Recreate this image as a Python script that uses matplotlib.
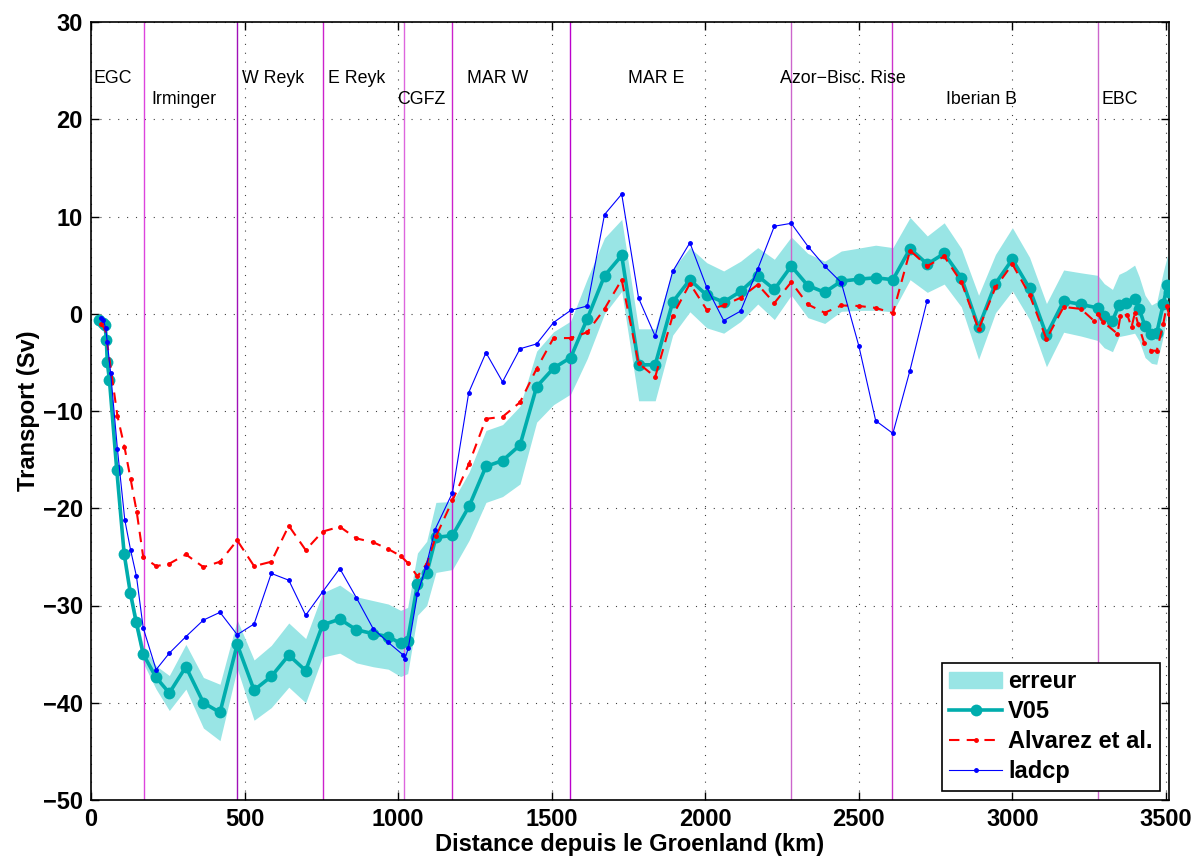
import matplotlib
matplotlib.use("Agg")
import matplotlib.pyplot as plt
from matplotlib.patches import Patch
from matplotlib.lines import Line2D
import numpy as np

plt.rcParams['font.family'] = ['Liberation Sans', 'DejaVu Sans']

# --- V05 transport (Sv) and its error half-width -------------------------
v05_km = [26, 38, 46, 50, 53, 60, 84, 108, 128, 147, 170, 212, 255, 309, 366, 420,
          476, 531, 587, 644, 699, 754, 810, 864, 919, 968, 1008, 1031, 1063, 1093,
          1123, 1177, 1231, 1286, 1340, 1397, 1451, 1506, 1562, 1616, 1672, 1728,
          1783, 1837, 1894, 1950, 2005, 2060, 2115, 2171, 2225, 2280, 2334, 2389,
          2443, 2500, 2555, 2611, 2667, 2723, 2778, 2834, 2890, 2945, 3000, 3056,
          3111, 3167, 3223, 3278, 3299, 3326, 3347, 3370, 3398, 3413, 3432, 3453,
          3470, 3491, 3505, 3510]
v05_sv = [-0.6, -0.95, -1.2, -2.7, -5.0, -6.8, -16.1, -24.7, -28.7, -31.7, -35.0,
          -37.4, -39.0, -36.3, -40.0, -41.0, -34.0, -38.7, -37.3, -35.1, -36.7,
          -32.0, -31.4, -32.5, -32.9, -33.2, -33.9, -33.6, -27.8, -26.7, -23.0,
          -22.8, -19.8, -15.7, -15.1, -13.5, -7.5, -5.6, -4.5, -0.5, 3.9, 6.0,
          -5.25, -5.25, 1.2, 3.5, 1.9, 1.2, 2.3, 3.9, 2.5, 4.9, 2.9, 2.2, 3.35,
          3.55, 3.7, 3.5, 6.7, 5.1, 6.2, 3.7, -1.4, 3.1, 5.6, 2.6, -2.2, 1.3,
          0.96, 0.6, -0.2, -0.7, 0.85, 1.1, 1.5, 0.5, -1.3, -2.1, -2.0, 0.96,
          3.0, 2.2]
v05_err = [0.3, 0.3, 0.3, 0.4, 0.4, 0.5, 0.5, 0.6, 0.7, 0.8, 0.9, 1.2, 1.8, 2.3,
           2.6, 2.9, 2.5, 3.1, 3.2, 3.3, 3.3, 3.3, 3.5, 3.4, 3.4, 3.35, 3.4, 3.4,
           3.2, 3.3, 3.6, 3.5, 3.5, 3.7, 3.7, 4.0, 3.65, 3.75, 3.75, 4.1, 3.9,
           3.7, 3.7, 3.7, 3.4, 3.3, 3.35, 3.2, 3.1, 2.9, 3.1, 3.0, 3.3, 3.2, 3.1,
           3.2, 3.35, 3.3, 3.2, 2.9, 3.15, 3.0, 3.3, 3.0, 3.25, 3.2, 3.25, 3.2,
           3.25, 3.35, 3.3, 3.2, 3.2, 3.3, 3.5, 3.3, 3.2, 3.0, 3.2, 3.3, 3.0, 3.0]

# --- Alvarez et al. ------------------------------------------------------
alv_km = [31, 46, 86, 109, 129, 149, 170, 212, 255, 309, 366, 420, 476, 531, 587,
          644, 699, 754, 810, 864, 919, 968, 1008, 1031, 1063, 1093, 1123, 1177,
          1231, 1286, 1340, 1397, 1451, 1506, 1562, 1616, 1672, 1728, 1783, 1837,
          1894, 1950, 2005, 2060, 2115, 2171, 2225, 2280, 2334, 2389, 2443, 2500,
          2555, 2611, 2667, 2723, 2778, 2834, 2890, 2945, 3000, 3056, 3111, 3167,
          3223, 3265, 3278, 3294, 3342, 3352, 3374, 3388, 3399, 3410, 3429, 3453,
          3470, 3491, 3502, 3510]
alv_sv = [-1.1, -1.5, -10.5, -13.7, -17.0, -20.4, -25.0, -25.95, -25.7, -24.75,
          -26.05, -25.5, -23.3, -25.95, -25.5, -21.8, -24.3, -22.4, -21.9, -23.1,
          -23.5, -24.2, -24.9, -25.6, -27.0, -25.7, -22.9, -19.2, -15.4, -10.8,
          -10.6, -9.1, -5.65, -2.5, -2.5, -1.9, 0.5, 3.5, -5.1, -6.5, -0.2, 3.1,
          0.4, 0.85, 1.65, 3.0, 1.1, 3.25, 0.96, 0.1, 0.85, 0.8, 0.6, 0.06, 6.5,
          4.9, 5.9, 3.25, -1.6, 2.7, 5.1, 1.95, -2.6, 0.7, 0.5, -0.7, 0.0, -0.8,
          -2.05, -0.2, -0.1, -1.4, 0.1, -1.1, -3.0, -3.8, -3.8, -1.1, 0.75, 0.0]

# --- LADCP ---------------------------------------------------------------
ladcp_km = [31, 40, 48, 53, 64, 86, 110, 129, 148, 170, 212, 255, 309, 366, 420,
            476, 531, 587, 644, 699, 754, 810, 864, 919, 968, 1017, 1022, 1033,
            1063, 1091, 1120, 1177, 1230, 1286, 1340, 1397, 1451, 1506, 1562,
            1616, 1672, 1728, 1783, 1837, 1894, 1950, 2005, 2060, 2115, 2171,
            2225, 2280, 2335, 2389, 2443, 2500, 2555, 2611, 2666, 2722]
ladcp_sv = [-0.4, -0.6, -1.5, -2.9, -6.1, -13.9, -21.2, -24.3, -27.0, -32.3, -36.6,
            -34.9, -33.2, -31.5, -30.7, -33.0, -31.9, -26.7, -27.4, -31.0, -28.6,
            -26.2, -29.2, -32.4, -33.8, -35.1, -35.5, -34.4, -28.8, -26.0, -22.2,
            -18.4, -8.1, -4.0, -7.0, -3.6, -3.1, -0.9, 0.35, 0.8, 10.2, 12.3, 1.6,
            -2.3, 4.35, 7.3, 2.7, -0.7, 0.27, 4.6, 9.0, 9.3, 6.9, 4.9, 3.2, -3.3,
            -11.0, -12.3, -5.9, 1.3]

# --- Section boundaries and region names ----------------------------------
bound_km = [172, 477, 754, 1019, 1175, 1560, 2278, 2608, 3279]
bound_colors = ['#dd44dd', '#a010b8', '#cc22cc', '#dd66dd', '#cc22cc',
                '#bb00cc', '#cc66cc', '#cc33cc', '#cc66cc']
region_names = ['EGC', 'Irminger', 'W Reyk', 'E Reyk', 'CGFZ', 'MAR W', 'MAR E',
                'Azor\u2212Bisc. Rise', 'Iberian B', 'EBC']
region_km = [9, 197, 493, 772, 997, 1224, 1748, 2243, 2783, 3289]
region_sv = [23.7, 21.55, 23.7, 23.7, 21.55, 23.7, 23.7, 23.7, 21.55, 21.55]

x_ticks = [0, 500, 1000, 1500, 2000, 2500, 3000, 3500]
y_ticks = [-50, -40, -30, -20, -10, 0, 10, 20, 30]

teal = '#00adad'
band = '#99e5e5'

fig = plt.figure(figsize=(11.96, 8.59), dpi=100)
ax = fig.add_axes([91 / 1196, 1 - 800 / 859, (1169 - 91) / 1196, (800 - 22) / 859])

x = np.array(v05_km, dtype=float)
y = np.array(v05_sv)
e = np.array(v05_err)
ax.fill_between(x, y - e, y + e, color=band, linewidth=0, zorder=1)

for xb, cb in zip(bound_km, bound_colors):
    ax.axvline(xb, color=cb, linewidth=1.0, zorder=1.5)

ax.plot(x, y, '-o', color=teal, linewidth=2.6, markersize=8.5,
        markeredgewidth=0, zorder=3)
ax.plot(alv_km, alv_sv, color='#ff0000', linewidth=1.5, marker='.', markersize=5,
        dashes=(5, 3.5), zorder=4)
ax.plot(ladcp_km, ladcp_sv, color='#0000ff', linewidth=0.8, marker='.',
        markersize=5, linestyle='-', zorder=5)

for name, xk, ys in zip(region_names, region_km, region_sv):
    ax.text(xk, ys, name, fontsize=12.8, ha='left', va='baseline', zorder=6)

ax.set_xlim(0, 3510)
ax.set_ylim(-50, 30)
ax.set_xticks(x_ticks)
ax.set_yticks(y_ticks)
ax.grid(True, color='k', linestyle=(0, (1, 7)), linewidth=0.8, alpha=0.75)
ax.set_axisbelow(True)
ax.tick_params(direction='in', length=6, width=1, top=True, right=True,
               labelsize=17, pad=6)
for lab in ax.get_xticklabels() + ax.get_yticklabels():
    lab.set_fontweight('bold')
for sp in ax.spines.values():
    sp.set_linewidth(1.2)

ax.set_xlabel('Distance depuis le Groenland (km)', fontsize=17, fontweight='bold',
              labelpad=1.5)
ax.set_ylabel('Transport (Sv)', fontsize=17, fontweight='bold', labelpad=2)

handles = [Patch(facecolor=band, edgecolor=band),
           Line2D([], [], color=teal, linewidth=2.6, marker='o', markersize=8.5,
                  markeredgewidth=0),
           Line2D([], [], color='#ff0000', linewidth=1.5, marker='.', markersize=5,
                  dashes=(5, 3.5)),
           Line2D([], [], color='#0000ff', linewidth=0.8, marker='.', markersize=5)]
labels = ['erreur', 'V05', 'Alvarez et al.', 'ladcp']
leg = ax.legend(handles, labels, loc='lower right', fancybox=False, framealpha=1,
                edgecolor='k', prop={'weight': 'bold', 'size': 17},
                borderaxespad=0.4, handlelength=2.25, handletextpad=0.25,
                labelspacing=0.3, borderpad=0.3)
leg.get_frame().set_linewidth(1.2)
leg.set_zorder(10)

fig.savefig('out.png', dpi=100)
